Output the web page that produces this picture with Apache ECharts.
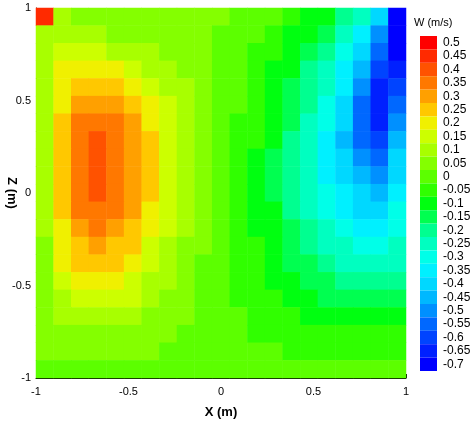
<!DOCTYPE html>
<html>
<head>
    <meta charset="utf-8" />
    <title>W (m/s)</title>
    <script src="https://cdn.jsdelivr.net/npm/echarts@6/dist/echarts.min.js"></script>
    <style>html,body{margin:0;padding:0;background:#fff}#chart{width:475px;height:422px}</style>
</head>
<body>
<div id="chart"></div>
<script>
    // grid positions (m)
    var xs = [-1, -0.9, -0.8, -0.7, -0.6, -0.5, -0.4, -0.3, -0.2, -0.1, 0, 0.1, 0.2, 0.3, 0.4, 0.5, 0.6, 0.7, 0.8, 0.9, 1];
    var zs = [1, 0.9, 0.8, 0.7, 0.6, 0.5, 0.4, 0.3, 0.2, 0.1, 0, -0.1, -0.2, -0.3, -0.4, -0.5, -0.6, -0.7, -0.8, -0.9, -1];
    // W values, one row per z (top to bottom)
    var w = [
        [0.45,0.1,0.06,0.05,0.05,0.05,0.05,0.05,0.05,0.04,0.03,0.02,0.0,-0.02,-0.05,-0.08,-0.12,-0.18,-0.27,-0.42,-0.7],
        [0.1,0.12,0.1,0.08,0.06,0.05,0.05,0.05,0.05,0.04,0.02,0.0,-0.02,-0.05,-0.08,-0.12,-0.17,-0.24,-0.34,-0.5,-0.7],
        [0.08,0.15,0.15,0.14,0.12,0.1,0.08,0.06,0.05,0.03,0.01,-0.01,-0.03,-0.06,-0.1,-0.15,-0.2,-0.28,-0.4,-0.56,-0.68],
        [0.08,0.18,0.22,0.21,0.18,0.15,0.12,0.09,0.06,0.04,0.01,-0.01,-0.04,-0.08,-0.12,-0.18,-0.24,-0.33,-0.45,-0.6,-0.65],
        [0.08,0.2,0.26,0.27,0.24,0.2,0.16,0.12,0.08,0.04,0.01,-0.02,-0.05,-0.09,-0.14,-0.2,-0.27,-0.37,-0.5,-0.64,-0.6],
        [0.08,0.22,0.3,0.32,0.3,0.25,0.2,0.14,0.09,0.05,0.01,-0.02,-0.06,-0.1,-0.15,-0.22,-0.3,-0.4,-0.53,-0.66,-0.55],
        [0.08,0.23,0.33,0.36,0.33,0.28,0.22,0.16,0.1,0.05,0.01,-0.03,-0.07,-0.11,-0.17,-0.24,-0.32,-0.42,-0.54,-0.64,-0.5],
        [0.08,0.24,0.35,0.39,0.36,0.3,0.23,0.17,0.11,0.05,0.01,-0.03,-0.07,-0.12,-0.18,-0.25,-0.33,-0.43,-0.53,-0.6,-0.45],
        [0.08,0.25,0.36,0.41,0.37,0.31,0.24,0.17,0.11,0.05,0.0,-0.04,-0.08,-0.13,-0.19,-0.26,-0.34,-0.42,-0.5,-0.55,-0.4],
        [0.08,0.25,0.36,0.41,0.37,0.31,0.24,0.17,0.1,0.05,0.0,-0.04,-0.08,-0.13,-0.19,-0.26,-0.33,-0.4,-0.46,-0.5,-0.38],
        [0.08,0.24,0.35,0.39,0.36,0.3,0.23,0.16,0.1,0.04,0.0,-0.04,-0.08,-0.13,-0.19,-0.25,-0.31,-0.37,-0.42,-0.45,-0.35],
        [0.08,0.23,0.33,0.36,0.34,0.28,0.21,0.15,0.09,0.04,0.0,-0.04,-0.08,-0.12,-0.18,-0.23,-0.29,-0.34,-0.38,-0.4,-0.32],
        [0.08,0.22,0.3,0.33,0.31,0.26,0.19,0.13,0.08,0.03,-0.01,-0.04,-0.08,-0.12,-0.17,-0.21,-0.26,-0.3,-0.34,-0.36,-0.3],
        [0.07,0.2,0.27,0.29,0.27,0.23,0.17,0.12,0.07,0.03,-0.01,-0.04,-0.07,-0.11,-0.15,-0.19,-0.23,-0.27,-0.3,-0.31,-0.27],
        [0.07,0.18,0.23,0.25,0.23,0.19,0.15,0.1,0.06,0.02,-0.01,-0.04,-0.07,-0.1,-0.13,-0.17,-0.2,-0.23,-0.26,-0.27,-0.24],
        [0.06,0.15,0.19,0.2,0.19,0.16,0.12,0.08,0.05,0.02,-0.01,-0.03,-0.06,-0.09,-0.11,-0.14,-0.17,-0.19,-0.21,-0.22,-0.2],
        [0.05,0.12,0.15,0.16,0.15,0.13,0.1,0.07,0.04,0.01,-0.01,-0.03,-0.05,-0.07,-0.09,-0.11,-0.13,-0.15,-0.17,-0.17,-0.16],
        [0.05,0.09,0.11,0.12,0.11,0.09,0.07,0.05,0.03,0.01,-0.01,-0.02,-0.04,-0.05,-0.07,-0.08,-0.1,-0.11,-0.12,-0.12,-0.11],
        [0.04,0.06,0.07,0.07,0.07,0.06,0.05,0.03,0.02,0.0,-0.01,-0.02,-0.03,-0.04,-0.05,-0.05,-0.06,-0.07,-0.07,-0.07,-0.07],
        [0.03,0.04,0.04,0.04,0.04,0.03,0.03,0.02,0.01,0.0,-0.01,-0.01,-0.02,-0.02,-0.03,-0.03,-0.03,-0.04,-0.04,-0.04,-0.04],
        [0.02,0.02,0.02,0.02,0.02,0.02,0.01,0.01,0.0,0.0,0.0,-0.01,-0.01,-0.01,-0.01,-0.02,-0.02,-0.02,-0.02,-0.02,-0.02]
    ];
    // colour bar levels, top to bottom
    var levels = [0.5,0.45,0.4,0.35,0.3,0.25,0.2,0.15,0.1,0.05,0,-0.05,-0.1,-0.15,-0.2,-0.25,-0.3,-0.35,-0.4,-0.45,-0.5,-0.55,-0.6,-0.65,-0.7];
    var levelColors = ['#ff0000','#ff2a00','#ff5200','#ff7800','#ffa000','#ffc800','#f0f000','#ccff00','#a8ff00','#84ff00','#5cff00','#30ff00','#00ff10',
        '#00ff50','#00ff90','#00ffc0','#00ffe8','#00f0ff','#00d8ff','#00b8ff','#0090ff','#0068ff','#0044ff','#0020ff','#0000ff'];

    var data = [];
    w.forEach(function (row, r) {
        row.forEach(function (v, c) {
            data.push([c, zs.length - 1 - r, v]);
        });
    });

    var pieces = levels.map(function (v, i) {
        var p = { label: String(v), color: levelColors[i] };
        if (i > 0) p.lt = v + 0.025;
        if (i < levels.length - 1) p.gte = v - 0.025;
        return p;
    });

    var chart = echarts.init(document.getElementById('chart'));
    chart.setOption({
        animation: false,
        textStyle: { fontFamily: 'Liberation Sans, Arial, sans-serif' },
        title: {
            text: 'W (m/s)', left: 414, top: 17, padding: 0,
            textStyle: { fontSize: 11, fontWeight: 'normal', color: '#000' }
        },
        grid: { left: 36, top: 8, width: 370, height: 370, outerBoundsMode: 'none', containLabel: false },
        xAxis: [
            { type: 'category', data: xs, show: false },
            {
                type: 'value', min: -1, max: 1, interval: 0.5, position: 'bottom',
                name: 'X (m)', nameLocation: 'middle', nameGap: 28,
                nameTextStyle: { fontSize: 13, fontWeight: 'bold', color: '#000' },
                axisLine: { onZero: false, lineStyle: { color: '#000' } },
                axisTick: { inside: true, length: 4 },
                axisLabel: { fontSize: 11, color: '#000' },
                splitLine: { show: false }
            }
        ],
        yAxis: [
            { type: 'category', data: zs.slice().reverse(), show: false },
            {
                type: 'value', min: -1, max: 1, interval: 0.5, position: 'left',
                name: 'Z (m)', nameLocation: 'middle', nameGap: 18, nameRotate: -90,
                nameMoveOverlap: false,
                nameTextStyle: { fontSize: 13, fontWeight: 'bold', color: '#000' },
                axisLine: { onZero: false, lineStyle: { color: '#000' } },
                axisTick: { inside: true, length: 4 },
                axisLabel: { fontSize: 11, color: '#000', margin: 5 },
                splitLine: { show: false }
            }
        ],
        visualMap: {
            type: 'piecewise', pieces: pieces, left: 420, top: 36, padding: 0,
            itemWidth: 17, itemHeight: 13.4, itemGap: 0, itemSymbol: 'rect',
            align: 'left', textGap: 6, showLabel: true, hoverLink: false,
            textStyle: { fontSize: 12, color: '#000' },
            seriesIndex: 0
        },
        series: [{
            type: 'heatmap', data: data, xAxisIndex: 0, yAxisIndex: 0
        }]
    });
</script>
</body>
</html>
